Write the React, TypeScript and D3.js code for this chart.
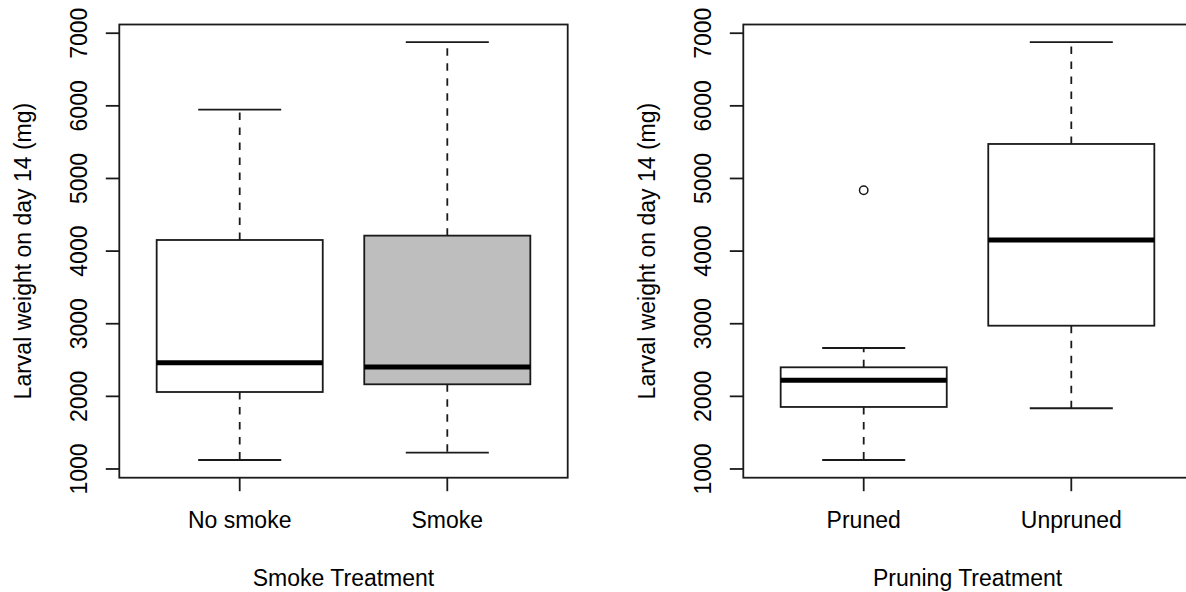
import React from "react";
import * as d3 from "d3";

// ---- Data ----
const smokeCategories = ["No smoke", "Smoke"];
const smokeLowerWhisker = [1124, 1225];
const smokeQ1 = [2060, 2166];
const smokeMedian = [2464, 2405];
const smokeQ3 = [4153, 4213];
const smokeUpperWhisker = [5948, 6876];
const smokeFill = ["#ffffff", "#bebebe"];
const smokeOutliers: number[][] = [[], []];

const pruneCategories = ["Pruned", "Unpruned"];
const pruneLowerWhisker = [1124, 1836];
const pruneQ1 = [1854, 2973];
const pruneMedian = [2221, 4153];
const pruneQ3 = [2400, 5475];
const pruneUpperWhisker = [2666, 6876];
const pruneFill = ["#ffffff", "#ffffff"];
const pruneOutliers: number[][] = [[4837], []];

const yTicks = [1000, 2000, 3000, 4000, 5000, 6000, 7000];
const yTitle = "Larval weight on day 14 (mg)";

const panels = [
  {
    categories: smokeCategories,
    lower: smokeLowerWhisker,
    q1: smokeQ1,
    median: smokeMedian,
    q3: smokeQ3,
    upper: smokeUpperWhisker,
    fill: smokeFill,
    outliers: smokeOutliers,
    xTitle: "Smoke Treatment",
  },
  {
    categories: pruneCategories,
    lower: pruneLowerWhisker,
    q1: pruneQ1,
    median: pruneMedian,
    q3: pruneQ3,
    upper: pruneUpperWhisker,
    fill: pruneFill,
    outliers: pruneOutliers,
    xTitle: "Pruning Treatment",
  },
];

const W = 1186;
const H = 592;
const panelOffset = 624;
const plotLeft = 119.3;
const plotRight = 567.7;
const plotTop = 24.5;
const plotBottom = 477.7;
const FONT = "'Liberation Sans', Arial, Helvetica, sans-serif";
const FS = 23;
const INK = "#1a1a1a";

function Panel({ p, dx }: { p: (typeof panels)[number]; dx: number }) {
  const x = d3.scaleLinear().domain([0.42, 2.58]).range([plotLeft, plotRight]);
  const y = d3.scaleLinear().domain([880, 7120]).range([plotBottom, plotTop]);
  const unit = x(1) - x(0);
  const boxW = 0.8 * unit;
  const capW = boxW / 2;
  const tickLen = 13.5;
  const cx = (plotLeft + plotRight) / 2;
  const cy = (plotTop + plotBottom) / 2;

  return (
    <g transform={`translate(${dx},0)`}>
      {p.categories.map((c, i) => {
        const xc = x(i + 1);
        return (
          <g key={c}>
            {/* whiskers */}
            <line x1={xc} x2={xc} y1={y(p.q3[i])} y2={y(p.upper[i])} stroke={INK} strokeWidth={1.8} strokeDasharray="7.5,7.5" />
            <line x1={xc} x2={xc} y1={y(p.q1[i])} y2={y(p.lower[i])} stroke={INK} strokeWidth={1.8} strokeDasharray="7.5,7.5" />
            <line x1={xc - capW / 2} x2={xc + capW / 2} y1={y(p.upper[i])} y2={y(p.upper[i])} stroke={INK} strokeWidth={1.8} />
            <line x1={xc - capW / 2} x2={xc + capW / 2} y1={y(p.lower[i])} y2={y(p.lower[i])} stroke={INK} strokeWidth={1.8} />
            {/* box */}
            <rect x={xc - boxW / 2} y={y(p.q3[i])} width={boxW} height={y(p.q1[i]) - y(p.q3[i])} fill={p.fill[i]} stroke={INK} strokeWidth={1.8} />
            <line x1={xc - boxW / 2} x2={xc + boxW / 2} y1={y(p.median[i])} y2={y(p.median[i])} stroke="#000" strokeWidth={5} />
            {p.outliers[i].map((o, k) => (
              <circle key={k} cx={xc} cy={y(o)} r={4.2} fill="none" stroke={INK} strokeWidth={1.5} />
            ))}
            {/* x tick + label */}
            <line x1={xc} x2={xc} y1={plotBottom} y2={plotBottom + tickLen} stroke={INK} strokeWidth={1.8} />
            <text x={xc} y={528.3} textAnchor="middle" fontFamily={FONT} fontSize={FS} fill="#000">
              {c}
            </text>
          </g>
        );
      })}
      {/* frame */}
      <rect x={plotLeft} y={plotTop} width={plotRight - plotLeft} height={plotBottom - plotTop} fill="none" stroke={INK} strokeWidth={1.8} />
      {/* y axis */}
      {yTicks.map((t) => (
        <g key={t}>
          <line x1={plotLeft - tickLen} x2={plotLeft} y1={y(t)} y2={y(t)} stroke={INK} strokeWidth={1.8} />
          <text transform={`translate(87.3,${y(t)}) rotate(-90)`} textAnchor="middle" fontFamily={FONT} fontSize={FS} fill="#000">
            {t}
          </text>
        </g>
      ))}
      <text transform={`translate(30.5,${cy}) rotate(-90)`} textAnchor="middle" fontFamily={FONT} fontSize={FS} fill="#000">
        {yTitle}
      </text>
      <text x={cx} y={585.7} textAnchor="middle" fontFamily={FONT} fontSize={FS} fill="#000">
        {p.xTitle}
      </text>
    </g>
  );
}

export default function App() {
  return (
    <svg
      width={W}
      height={H}
      viewBox={`0 0 ${W} ${H}`}
      style={{ position: "absolute", left: 0, top: 0, background: "#fff" }}
    >
      <rect x={0} y={0} width={W} height={H} fill="#fff" />
      {panels.map((p, i) => (
        <Panel key={i} p={p} dx={i * panelOffset} />
      ))}
    </svg>
  );
}
